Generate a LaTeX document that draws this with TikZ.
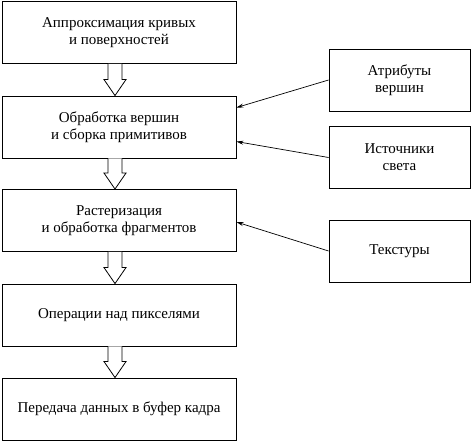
\documentclass[tikz,border=0pt]{standalone}
\usepackage{fontspec}
\setmainfont{Liberation Serif}
\usetikzlibrary{arrows.meta,calc}
\begin{document}
\begin{tikzpicture}[x=1pt,y=-1pt,
  box/.style={draw,line width=0.9pt,inner sep=0pt,align=center,font=\fontsize{15}{17}\selectfont},
  lbox/.style={box,minimum width=234pt,minimum height=62pt},
  rbox/.style={box,minimum width=141pt,minimum height=62pt},
  thin/.style={line width=0.7pt,-{Stealth[length=7pt,width=4pt]}},
  blockarrow/.style={draw,line width=0.8pt,fill=white,line join=miter}]
\useasboundingbox (0,0) rectangle (471,442);
\node[lbox] (b1) at (119,32.5) {Аппроксимация кривых\\и поверхностей};
\node[lbox] (b2) at (119,127) {Обработка вершин\\и сборка примитивов};
\node[lbox] (b3) at (119,220.5) {Растеризация\\и обработка фрагментов};
\node[lbox] (b4) at (119,315) {Операции над пикселями};
\node[lbox] (b5) at (119,409) {Передача данных в буфер кадра};
\node[rbox] (ra) at (399.5,80) {Атрибуты\\вершин};
\node[rbox] (rb) at (399.5,157.5) {Источники\\света};
\node[rbox] (rc) at (399.5,251) {Текстуры};
\foreach \a/\b in {b1/b2,b2/b3,b3/b4,b4/b5}{
  \path let \p1=(\a.south), \p2=(\b.north) in
    coordinate (s) at (\x1-4pt,\y1)
    coordinate (t) at (\x2-4pt,\y2);
  \draw[blockarrow] ($(s)+(-7,0)$) -- ($(t)+(-7,-16)$) -- ($(t)+(-11,-16)$) -- (t)
    -- ($(t)+(11,-16)$) -- ($(t)+(7,-16)$) -- ($(s)+(7,0)$);
}
\coordinate (e1) at ($(b2.north east)+(0,12)$);
\coordinate (e2) at ($(b2.north east)+(0,46)$);
\coordinate (e3) at ($(b3.north east)+(0,33)$);
\draw[thin] (ra.west) -- (e1);
\draw[thin] (rb.west) -- (e2);
\draw[thin] (rc.west) -- (e3);
\end{tikzpicture}
\end{document}
